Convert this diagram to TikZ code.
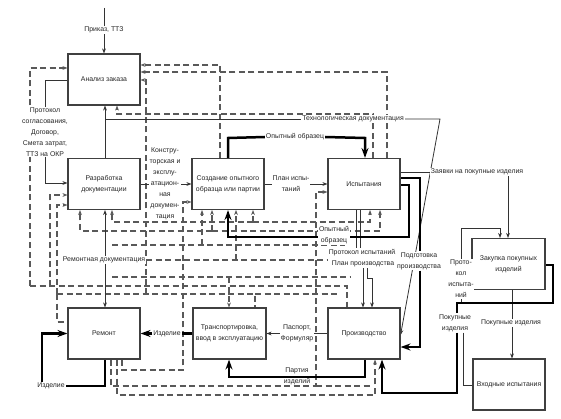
\documentclass[tikz,border=0pt]{standalone}
\usepackage{fontspec}
\setmainfont{Liberation Sans}
\usetikzlibrary{arrows.meta,calc}
\pgfdeclarelayer{bg}
\pgfsetlayers{bg,main}
\newcommand\labfont{\fontsize{6.9}{11}\selectfont}
\begin{document}
\begin{tikzpicture}[x=1pt,y=-1pt,
  box/.style={draw=black!75,line width=1.1pt,fill=white,minimum width=72pt,minimum height=51pt,align=center,font=\labfont,inner sep=1pt,text=black!85},
  lbl/.style={font=\labfont,fill=white,inner sep=0.8pt,align=center,text=black!85},
  lblc/.style={font=\labfont,inner sep=0.8pt,align=center,text=black!85},
  ln/.style={draw=black!80,line width=0.8pt},
  dl/.style={draw=black!65,line width=1.2pt,dash pattern=on 6pt off 3.5pt},
  tk/.style={draw=black,line width=2.5pt},
  ar/.style={-{Stealth[length=5pt,width=3.8pt]}},
  bar/.style={-{Stealth[length=10pt,width=7pt]}}
]
\useasboundingbox (0,0) rectangle (561,419);
% boxes
\node[box] (A) at (104,79.5) {Анализ заказа};
\node[box] (R) at (104,184) {Разработка\\документации};
\node[box] (S) at (228,184) {Создание опытного\\образца или партии};
\node[box] (I) at (364,184) {Испытания};
\node[box,minimum width=73pt] (Z) at (508.5,264) {Закупка покупных\\изделий};
\node[box] (M) at (104,333.5) {Ремонт};
\node[box,minimum width=73pt] (T) at (229.5,333.5) {Транспортировка,\\ввод в эксплуатацию};
\node[box] (P) at (364,333.5) {Производство};
\node[box] (V) at (509,384.5) {Входные испытания};
% labels
\node[lbl] (Lprik) at (104,30) {Приказ, ТТЗ};
\node[lbl] (Lprot) at (45,132) {Протокол\\согласования,\\Договор,\\Смета затрат,\\ТТЗ на ОКР};
\node[lbl] (Lk) at (165,184) {Констру-\\торская и\\эксплу-\\атацион-\\ная\\докумен-\\тация};
\node[lbl] (Lt) at (353,119) {Технологическая документация};
\node[lbl] (Lo1) at (295,137) {Опытный образец};
\node[lbl] (Lpl) at (291,184) {План испы-\\таний};
\node[lbl] (Lz) at (477,172) {Заявки на покупные изделия};
\node[lbl] (Lo2) at (334,235) {Опытный\\образец};
\node[lbl] (Lpp) at (363,258) {Протокол испытаний,\\План производства};
\node[lbl] (Lpr) at (419,261) {Подготовка\\производства};
\node[lbl] (Lpk) at (461,279) {Прото-\\кол\\испыта-\\ний};
\node[lbl] (Lr) at (104,260) {Ремонтная документация};
\node[lbl] (Li2) at (167,333.5) {Изделие};
\node[lbl] (Lpf) at (297,333.5) {Паспорт,\\Формуляр};
\node[lbl] (Lpi) at (455,323) {Покупные\\изделия};
\node[lbl] (Lpv) at (511,323) {Покупные изделия};
\node[lbl] (Li1) at (51,386) {Изделие};
\node[lblc] (Lpt) at (297,376) {Партия\\изделий};
\coordinate (top) at (104,8);

\begin{pgfonlayer}{bg}
\fill[white] (0,0) rectangle (561,419);
% --- dashed network ---
\draw[dl,ar] (S.north -| 220,0) -- (220,65) -- (A.east |- 0,65);
\draw[dl,ar] (I.north -| 387,0) -- (387,72) -- (A.east |- 0,72);
\draw[dl,ar] (146,294) -- (146,80) -- (A.east |- 0,80);
\draw[dl,ar] (I.north -| 373,0) -- (373,114) -- (117,114) -- (A.south -| 117,0);
\draw[dl,ar] (30,286) -- (30,68) -- (A.west |- 0,68);
\draw[dl,ar] (50,286) -- (50,195) -- (R.west |- 0,195);
\draw[dl,ar] (57,294) -- (57,205) -- (R.west |- 0,205);
\draw[dl] (57,294) -- (57,322) -- (M.west |- 0,322);
% rows
\draw[dl,ar] (253,222) -- (112,222) -- (R.south -| 112,0);
\draw[dl,ar] (253,222) -- (S.south -| 253,0);
\draw[dl,ar] (253,222) -- (370,222) -- (I.south -| 370,0);
\draw[dl,ar] (212,231) -- (80,231) -- (R.south -| 80,0);
\draw[dl,ar] (212,231) -- (S.south -| 212,0);
\draw[dl,ar] (212,231) -- (380,231) -- (I.south -| 380,0);
\draw[dl] (112,245) -- (345,245);
\draw[dl,ar] (202,245) -- (S.south -| 202,0);
\draw[dl] (Lr.east) -- (345,260);
\draw[dl,ar] (236,260) -- (S.south -| 236,0);
\draw[dl] (112,277) -- (350,277);
\draw[dl,ar] (229,277) -- (T.north -| 229,0);
\draw[dl] (30,286) -- (347,286) -- (P.north -| 347,0);
\draw[dl] (57,294) -- (255,294) -- (T.north -| 255,0);
\draw[dl] (255,294) -- (340,294);
\draw[dl,ar] (M.south -| 122,0) -- (122,370) -- (183,370) -- (183,202) -- (S.west |- 0,202);
\draw[dl,ar] (M.south -| 111,0) -- (111,386) -- (316,386) -- (316,192) -- (I.west |- 0,192);
\draw[dl] (316,386) -- (370,386);
\draw[dl,ar] (M.south -| 117,0) -- (117,395) -- (375,395) -- (P.south -| 375,0);
% --- thin solid ---
\draw[ln] (top) -- (Lprik.north);
\draw[ln,ar] (Lprik.south) -- (A.north);
\draw[ln] (A.west |- 0,80) -- (45,80) -- (Lprot.north -| 45,0);
\draw[ln,ar] (Lprot.south -| 45,0) -- (45,183) -- (R.west |- 0,183);
\draw[ln,ar] (R.north -| 105,0) -- (A.south -| 105,0);
\draw[ln] (105,119) -- (Lt.west);
\draw[ln,ar] (Lt.east) -- (440,119) -- (P.east |- 0,335);
\draw[ln] (R.east) -- (Lk.west);
\draw[ln,ar] (Lk.east) -- (S.west);
\draw[ln,ar] (Lr.north -| 105,0) -- (R.south -| 105,0);
\draw[ln,ar] (Lr.south -| 105,0) -- (M.north -| 105,0);
\draw[ln] (S.east) -- (Lpl.west);
\draw[ln,ar] (Lpl.east) -- (I.west);
\draw[ln] (I.south -| 356,0) -- (Lpp.north -| 356,0);
\draw[ln] (I.south -| 360,0) -- (Lpp.north -| 360,0);
\draw[ln,ar] (Lpp.south -| 363,0) -- (P.north -| 363,0);
\draw[ln,ar] (Lpp.south -| 367,0) -- (367,278) -- (372,278) -- (P.north -| 372,0);
\draw[ln] (P.west) -- (Lpf.east);
\draw[ln,ar] (Lpf.west) -- (T.east);
\draw[ln] (I.east |- 0,172) -- (Lz.west);
\draw[ln,ar] (Lz.south -| 508,0) -- (Z.north -| 508,0);
\draw[ln,ar] (Lpk.north) -- (Lpk.north |- 0,228) -- (500,228) -- (Z.north -| 500,0);
\draw[ln] (Lpk.south) -- (Lpk.south |- 0,303);
\draw[ln] (Z.south -| 512,0) -- (Lpv.north -| 512,0);
\draw[ln,ar] (Lpv.south -| 512,0) -- (V.north -| 512,0);
\draw[ln] (Lpi.south -| 463,0) -- (463,385) -- (V.west |- 0,385);
% --- thick ---
\draw[tk] (S.north -| 228,0) -- (228,138) -- (Lo1.west);
\draw[tk,bar] (Lo1.east) -- (365,138) -- (I.north -| 365,0);
\draw[tk] (I.east |- 0,185) -- (409,185) -- (409,237) -- (Lo2.east |- 0,237);
\draw[tk,bar] (Lo2.west |- 0,237) -- (228,237) -- (S.south -| 228,0);
\draw[tk] (I.east |- 0,178) -- (420,178) -- (Lpr.north -| 420,0);
\draw[tk,bar] (Lpr.south -| 420,0) -- (420,347) -- (P.east |- 0,347);
\draw[tk] (Z.east |- 0,265) -- (553,265) -- (553,303) -- (457,303) -- (Lpi.north -| 457,0);
\draw[tk,bar] (Lpi.south -| 457,0) -- (457,393) -- (382,393) -- (P.south -| 382,0);
\draw[tk] (T.west) -- (Li2.east);
\draw[tk,bar] (Li2.west) -- (M.east);
\draw[tk,bar] (Li1.north -| 42,0) -- (42,333.5) -- (M.west);
\draw[tk] (M.south -| 105,0) -- (105,386) -- (Li1.east);
\draw[tk,bar] (P.south -| 365,0) -- (365,377) -- (229,377) -- (T.south -| 229,0);
\end{pgfonlayer}
\end{tikzpicture}
\end{document}
